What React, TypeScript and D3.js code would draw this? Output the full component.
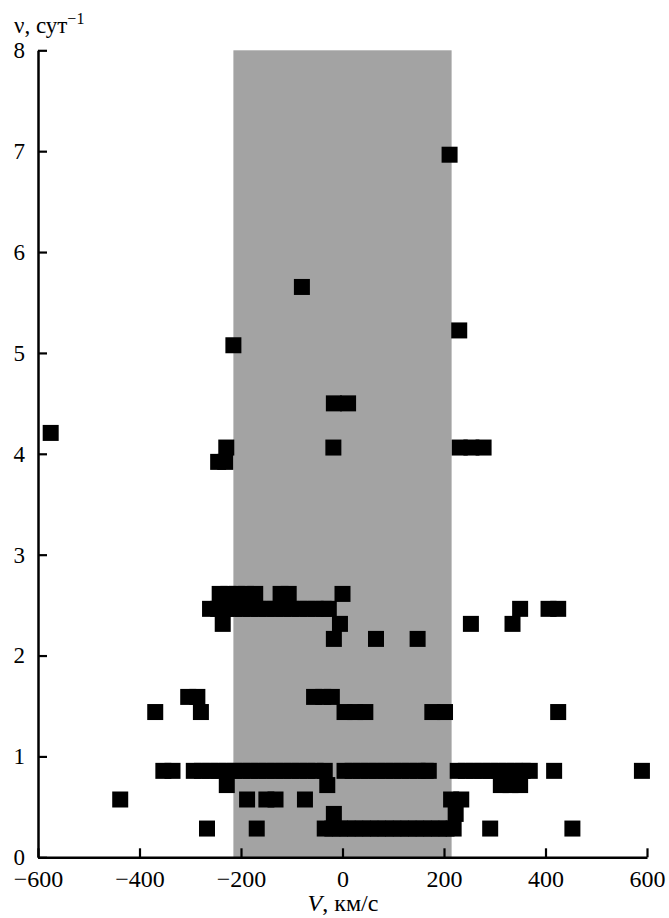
import React, { useEffect, useRef } from "react";
import * as d3 from "d3";

// frequency levels (1/day) and the velocities (km/s) found on each level
const nuLevels = [0.285, 0.43, 0.573, 0.716, 0.857, 1.44, 1.59, 2.165, 2.314, 2.463, 2.611, 3.92, 4.062, 4.207, 4.5, 5.076, 5.223, 5.654, 6.965];

const velocities = [
  // 0.285
  [-267, -169, -35, -20, -5, 10, 25, 40, 55, 70, 85, 100, 115, 130, 145, 160, 175, 190, 205, 219, 291, 453],
  // 0.43
  [-17, 223],
  // 0.573
  [-438, -188, -150, -132, -74, 214, 234],
  // 0.716
  [-228, -30, 312, 331, 350],
  // 0.857
  [-353, -335, -293, -277, -261, -245, -229, -213, -197, -181, -165, -149, -133, -117, -101, -85, -69, -53, -35,
    4, 20, 36, 52, 68, 84, 100, 116, 132, 148, 164, 170,
    227, 243, 259, 275, 291, 307, 323, 339, 355, 369, 417, 590],
  // 1.44
  [-369, -279, 4, 25, 45, 177, 202, 425],
  // 1.59
  [-304, -286, -56, -38, -21],
  // 2.165
  [-17, 66, 148],
  // 2.314
  [-236, -5, 253, 335],
  // 2.463
  [-261, -245, -229, -213, -197, -181, -165, -149, -133, -117, -101, -85, -69, -53, -37, -27, 350, 406, 425],
  // 2.611
  [-242, -225, -208, -190, -172, -122, -106, 0],
  // 3.92
  [-245, -231],
  // 4.062
  [-229, -18, 231, 254, 278],
  // 4.207
  [-575],
  // 4.5
  [-17, 11],
  // 5.076
  [-215],
  // 5.223
  [230],
  // 5.654
  [-80],
  // 6.965
  [211],
];

const band = [-215, 215];
const xTicks = [-600, -400, -200, 0, 200, 400, 600];
const yTicks = [0, 1, 2, 3, 4, 5, 6, 7, 8];

const W = 669;
const H = 918;
const FONT = "'Liberation Serif', 'Times New Roman', serif";

export default function App() {
  const ref = useRef<SVGSVGElement>(null);

  useEffect(() => {
    const svg = d3.select(ref.current);
    svg.selectAll("*").remove();

    const x = d3.scaleLinear().domain([-600, 600]).range([38, 647]);
    const y = d3.scaleLinear().domain([0, 8]).range([857.3, 50.3]);

    const pts: { v: number; nu: number }[] = [];
    nuLevels.forEach((nu, i) => velocities[i].forEach((v) => pts.push({ v, nu })));

    // shaded velocity band
    svg.append("rect")
      .attr("x", x(band[0]))
      .attr("y", y(8))
      .attr("width", x(band[1]) - x(band[0]))
      .attr("height", y(0) - y(8))
      .attr("fill", "#a3a3a3");

    const s = 16;
    svg.append("g")
      .selectAll("rect")
      .data(pts)
      .enter()
      .append("rect")
      .attr("x", (d) => x(d.v) - s / 2)
      .attr("y", (d) => y(d.nu) - s / 2)
      .attr("width", s)
      .attr("height", s)
      .attr("fill", "#000");

    const gx = svg.append("g")
      .attr("transform", `translate(0,${y(0)})`)
      .call(d3.axisBottom(x).tickValues(xTicks).tickSizeInner(-9).tickSizeOuter(0).tickPadding(13));

    const gy = svg.append("g")
      .attr("transform", `translate(${x(-600)},0)`)
      .call(d3.axisLeft(y).tickValues(yTicks).tickSizeInner(-9).tickSizeOuter(0).tickPadding(13));

    [gx, gy].forEach((g, i) => {
      g.select(".domain").attr("stroke", "#000").attr("stroke-width", 2.5);
      g.selectAll(".tick line").attr("stroke", "#000").attr("stroke-width", 2.2);
      g.selectAll(".tick text")
        .attr("fill", "#000")
        .style("font-family", FONT)
        .style("font-size", i === 0 ? "24px" : "23px");
    });

    // axis titles
    const yt = svg.append("text")
      .attr("x", 14)
      .attr("y", 33)
      .style("font-family", FONT)
      .style("font-size", "23px")
      .attr("fill", "#000");
    yt.append("tspan").text("ν, сут");
    yt.append("tspan").attr("dy", -9).style("font-size", "16px").text("−1");

    const xt = svg.append("text")
      .attr("x", 343)
      .attr("y", 911)
      .attr("text-anchor", "middle")
      .style("font-family", FONT)
      .style("font-size", "24px")
      .attr("fill", "#000");
    xt.append("tspan").style("font-style", "italic").text("V");
    xt.append("tspan").text(", км/с");
  }, []);

  return (
    <svg
      ref={ref}
      width={W}
      height={H}
      style={{ position: "absolute", left: 0, top: 0, background: "#fff" }}
    />
  );
}
